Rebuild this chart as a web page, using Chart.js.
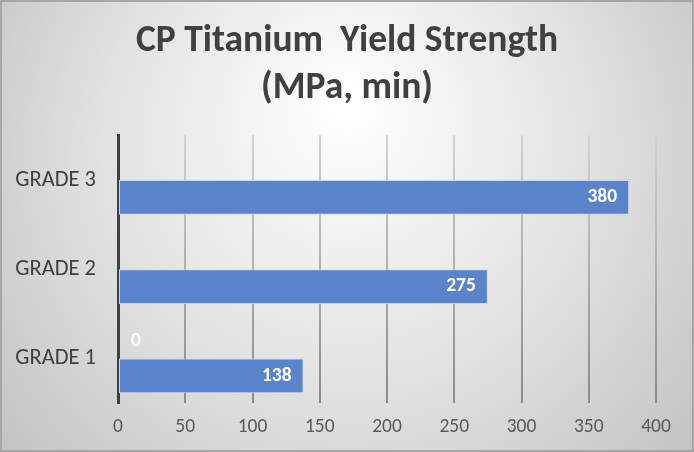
<!DOCTYPE html>
<html>
<head>
<meta charset="utf-8">
<script src="https://cdn.jsdelivr.net/npm/chart.js@4"></script>
<style>
  html, body { margin: 0; padding: 0; background: #fff; }
  #wrap { width: 694px; height: 452px; }
</style>
</head>
<body>
<div id="wrap"><canvas id="barChart" width="694" height="452"></canvas></div>
<script>
// data
const grades      = ['GRADE 3', 'GRADE 2', 'GRADE 1'];
const zeroSeries  = [null, null, 0];
const yieldValues = [380, 275, 138];
const xTicks      = [0, 50, 100, 150, 200, 250, 300, 350, 400];
const titleLines  = ['CP Titanium  Yield Strength', '(MPa, min)'];

const FONT = "Carlito, 'Open Sans', sans-serif";
const TITLE_SIZE = 37.5, TITLE_LH = 1.23, TITLE_TOP = 19;

// background: excel style radial gradient + outer border
const bgPlugin = {
    id: 'bg',
    beforeDraw(chart) {
        const ctx = chart.ctx;
        const w = chart.width, h = chart.height;
        ctx.save();
        const g = ctx.createRadialGradient(w * 0.5, h * 0.22, 10, w * 0.5, h * 0.4, w * 0.62);
        g.addColorStop(0, '#ffffff');
        g.addColorStop(0.55, '#e2e2e2');
        g.addColorStop(1, '#c4c4c4');
        ctx.fillStyle = g;
        ctx.fillRect(0, 0, w, h);
        ctx.strokeStyle = '#a6a6a6';
        ctx.lineWidth = 2;
        ctx.strokeRect(1, 1, w - 2, h - 2);
        ctx.restore();
    },
    // title centred on the whole canvas (the built-in one only reserves the room)
    afterDraw(chart) {
        const ctx = chart.ctx;
        ctx.save();
        ctx.font = "bold " + TITLE_SIZE + "px " + FONT;
        ctx.fillStyle = '#404040';
        ctx.textAlign = 'center';
        ctx.textBaseline = 'middle';
        const lh = TITLE_SIZE * TITLE_LH;
        titleLines.forEach((t, i) => {
            ctx.fillText(t, chart.width / 2, TITLE_TOP + lh / 2 + i * lh);
        });
        ctx.restore();
    }
};

// value labels, white bold inside the bar end
const labelPlugin = {
    id: 'barLabels',
    afterDatasetsDraw(chart) {
        const ctx = chart.ctx;
        ctx.save();
        ctx.font = "bold 19.5px " + FONT;
        ctx.fillStyle = '#ffffff';
        ctx.textBaseline = 'middle';
        chart.data.datasets.forEach((ds, i) => {
            const meta = chart.getDatasetMeta(i);
            meta.data.forEach((bar, j) => {
                const v = ds.data[j];
                if (v === null || v === undefined) return;
                const txt = String(v);
                const tw = ctx.measureText(txt).width;
                if (bar.x - 12 - tw < bar.base + 10) {
                    ctx.textAlign = 'left';
                    ctx.fillText(txt, bar.base + 13, bar.y);
                } else {
                    ctx.textAlign = 'right';
                    ctx.fillText(txt, bar.x - 12, bar.y);
                }
            });
        });
        ctx.restore();
    }
};

// gridlines fade from light at the top to darker at the bottom
function gridColor(c) {
    const area = c.chart.chartArea;
    if (!area) return '#a0a0a0';
    const g = c.chart.ctx.createLinearGradient(0, area.top, 0, area.bottom);
    g.addColorStop(0, '#d2d2d2');
    g.addColorStop(1, '#8a8a8a');
    return g;
}

const ctx = document.getElementById('barChart').getContext('2d');
new Chart(ctx, {
    type: 'bar',
    data: {
        labels: grades,
        datasets: [
            {
                data: zeroSeries,
                backgroundColor: '#5b83c9',
                borderColor: '#c9d6ee',
                borderWidth: 1,
                borderSkipped: false,
                categoryPercentage: 0.78,
                barPercentage: 1
            },
            {
                data: yieldValues,
                backgroundColor: '#5b83c9',
                borderColor: '#c9d6ee',
                borderWidth: 1,
                borderSkipped: false,
                categoryPercentage: 0.78,
                barPercentage: 1
            }
        ]
    },
    options: {
        indexAxis: 'y',
        responsive: false,
        animation: false,
        events: [],
        layout: { padding: { left: 0, right: 38, top: 0, bottom: 0 } },
        plugins: {
            legend: { display: false },
            tooltip: { enabled: false },
            title: {
                display: true,
                text: titleLines,
                color: 'rgba(0,0,0,0)',
                font: { family: FONT, size: TITLE_SIZE, weight: 'bold', lineHeight: TITLE_LH },
                padding: { top: TITLE_TOP, bottom: 24 }
            }
        },
        scales: {
            x: {
                min: 0,
                max: 400,
                afterBuildTicks(scale) { scale.ticks = xTicks.map(v => ({ value: v })); },
                afterFit(scale) { scale.height = 49; },
                grid: { color: gridColor, lineWidth: 2, drawTicks: false },
                border: { display: false },
                ticks: {
                    color: '#595959',
                    padding: 12,
                    font: { family: FONT, size: 19.5 }
                }
            },
            y: {
                grid: { display: false },
                border: { color: '#404040', width: 3 },
                afterFit(scale) { scale.width = 118; },
                ticks: {
                    color: '#404040',
                    padding: 14,
                    font: { family: FONT, size: 22.5 }
                }
            }
        }
    },
    plugins: [bgPlugin, labelPlugin]
});
</script>
</body>
</html>
